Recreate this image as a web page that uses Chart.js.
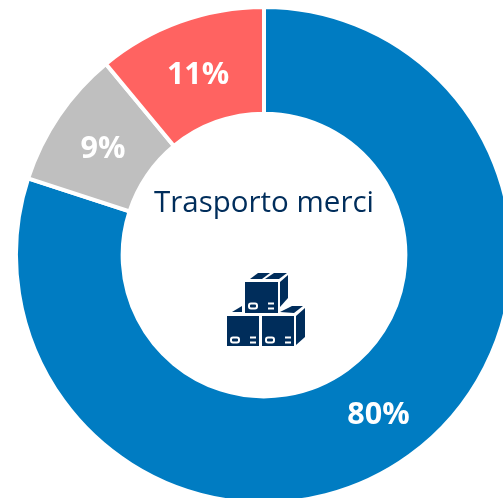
<!DOCTYPE html>
<html lang="it"><head><meta charset="utf-8">
<script src="https://cdn.jsdelivr.net/npm/chart.js@4"></script>
<style>
html,body{margin:0;padding:0;background:#fff;width:503px;height:498px;overflow:hidden}
#wrap{position:absolute;left:0;top:2px;width:528px;height:506px}
canvas{display:block}
svg{position:absolute;left:0;top:0}
</style></head><body>
<div id="wrap"><canvas id="c" width="528" height="506" style="width:528px;height:506px"></canvas></div>
<svg width="503" height="498" viewBox="0 0 503 498" role="img" aria-label="scatole">
<g fill="#002D5B">
<rect x="245" y="282" width="33" height="31"/>
<polygon points="250,279 258,273 270,273 262,279"/>
<polygon points="265,279 274,273 287,273 279,279"/>
<polygon points="280,282 288,275 288,298 280,307"/>
<rect x="227" y="316" width="32" height="30"/>
<rect x="262" y="316" width="32" height="30"/>
<polygon points="232,312 242,306 242,312"/>
<polygon points="280,312 292,306 303,306 294,313"/>
<polygon points="296,316 305,308 305,337 296,345"/>
</g>
<g fill="none" stroke="#fff" stroke-width="2">
<rect x="249" y="303.5" width="8" height="5" rx="2"/>
<rect x="231" y="337.5" width="8" height="5" rx="2"/>
<rect x="266" y="337.5" width="8" height="5" rx="2"/>
<path d="M268 303.5h6M268 308.5h6M250 337.5h6M250 342.5h6M285 337.5h6M285 342.5h6"/>
</g>
</svg>
<script>
const categories = ['Voce A', 'Voce B', 'Voce C'];
const values = [80, 9, 11];
const colors = ['#007CC2', '#BFBFBF', '#FF6361'];
const centerTitle = 'Trasporto merci';

const overlay = {
  id: 'overlay',
  afterDatasetsDraw(chart) {
    const ctx = chart.ctx;
    const meta = chart.getDatasetMeta(0);
    ctx.save();
    ctx.textAlign = 'center';
    ctx.textBaseline = 'alphabetic';
    ctx.fillStyle = '#fff';
    ctx.font = 'bold 30.5px "Open Sans"';
    meta.data.forEach((arc, i) => {
      const p = arc.tooltipPosition();
      ctx.fillText(values[i] + '%', p.x, p.y + 12);
    });
    const a = meta.data[0];
    ctx.fillStyle = '#002D5B';
    ctx.font = '29.5px "Open Sans"';
    ctx.fillText(centerTitle, a.x, 210);
    ctx.restore();
  }
};

new Chart(document.getElementById('c'), {
  type: 'doughnut',
  data: { labels: categories, datasets: [{ data: values, backgroundColor: colors, borderColor: '#fff', borderWidth: 4, hoverOffset: 0 }] },
  options: {
    responsive: false, animation: false, cutout: '57%',
    layout: { padding: 3 },
    plugins: { legend: { display: false }, tooltip: { enabled: false } }
  },
  plugins: [overlay]
});
</script>
</body></html>
